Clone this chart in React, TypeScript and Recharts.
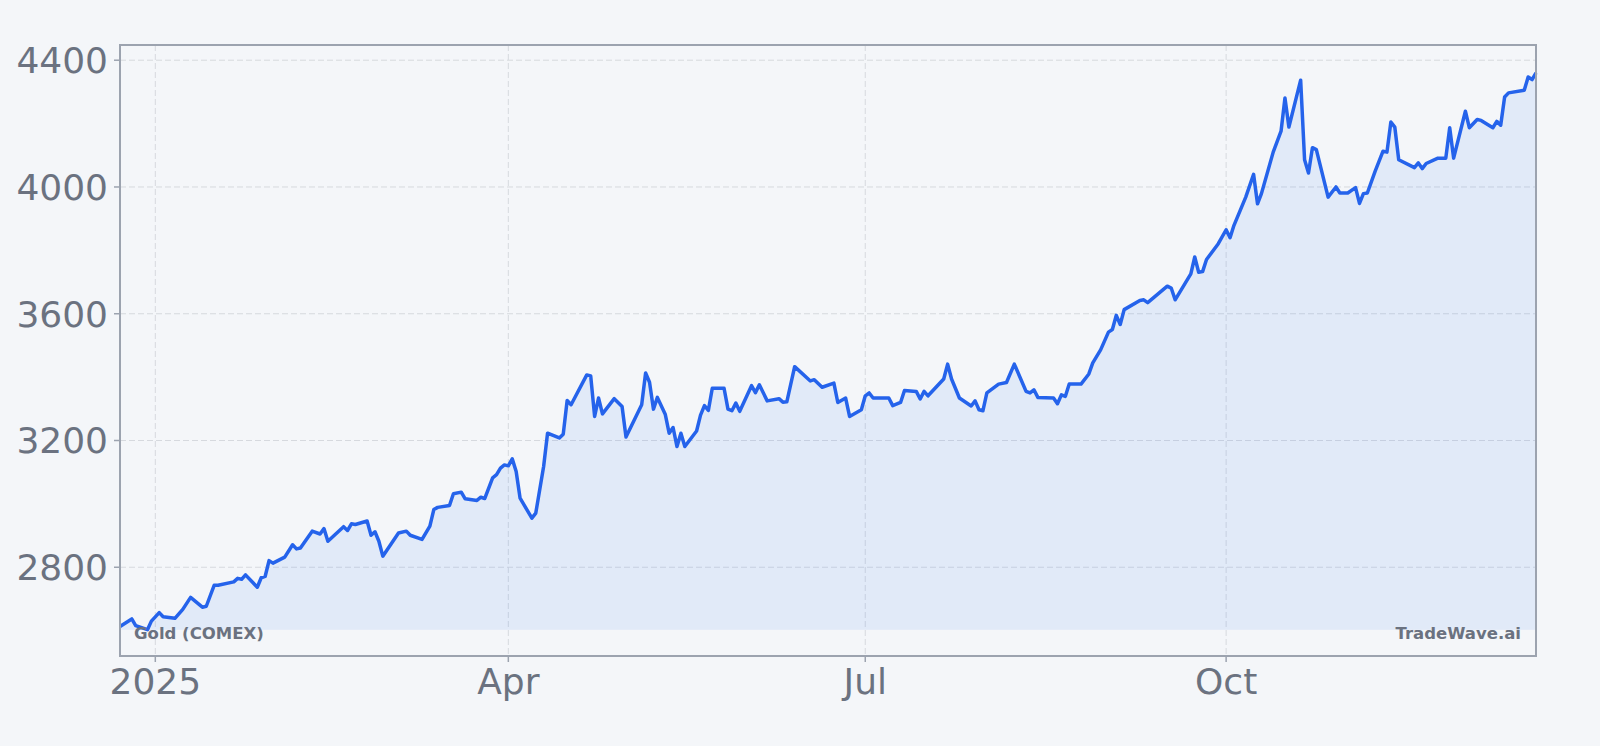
import React from 'react';
import { ComposedChart, Area, XAxis, YAxis, CartesianGrid } from 'recharts';

const dates = [
  '2024-12-23','2024-12-26','2024-12-27','2024-12-30','2024-12-31',
  '2025-01-02','2025-01-03','2025-01-06','2025-01-07','2025-01-08','2025-01-10','2025-01-13','2025-01-14','2025-01-16','2025-01-17',
  '2025-01-21','2025-01-22','2025-01-23','2025-01-24','2025-01-27','2025-01-28','2025-01-29','2025-01-30','2025-01-31',
  '2025-02-03','2025-02-05','2025-02-06','2025-02-07','2025-02-10','2025-02-12','2025-02-13','2025-02-14','2025-02-18','2025-02-19',
  '2025-02-20','2025-02-21','2025-02-24','2025-02-25','2025-02-26','2025-02-27','2025-02-28',
  '2025-03-04','2025-03-06','2025-03-07','2025-03-10','2025-03-12','2025-03-13','2025-03-14','2025-03-17','2025-03-18','2025-03-20',
  '2025-03-21','2025-03-24','2025-03-25','2025-03-26','2025-03-28','2025-03-29','2025-03-30','2025-03-31',
  '2025-04-01','2025-04-02','2025-04-03','2025-04-04','2025-04-07','2025-04-08','2025-04-10','2025-04-11','2025-04-14','2025-04-15',
  '2025-04-16','2025-04-17','2025-04-21','2025-04-22','2025-04-23','2025-04-24','2025-04-25','2025-04-28','2025-04-30',
  '2025-05-01','2025-05-05','2025-05-06','2025-05-07','2025-05-08','2025-05-09','2025-05-11','2025-05-12','2025-05-13','2025-05-14',
  '2025-05-15','2025-05-16','2025-05-19','2025-05-20','2025-05-21','2025-05-22','2025-05-23','2025-05-26','2025-05-27','2025-05-28',
  '2025-05-29','2025-05-30',
  '2025-06-02','2025-06-03','2025-06-04','2025-06-06','2025-06-09','2025-06-10','2025-06-11','2025-06-13','2025-06-17','2025-06-18',
  '2025-06-20','2025-06-23','2025-06-24','2025-06-26','2025-06-27','2025-06-30',
  '2025-07-01','2025-07-02','2025-07-03','2025-07-07','2025-07-08','2025-07-10','2025-07-11','2025-07-14','2025-07-15','2025-07-16',
  '2025-07-17','2025-07-21','2025-07-22','2025-07-23','2025-07-25','2025-07-28','2025-07-29','2025-07-30','2025-07-31',
  '2025-08-01','2025-08-04','2025-08-06','2025-08-08','2025-08-11','2025-08-12','2025-08-13','2025-08-14','2025-08-18','2025-08-19',
  '2025-08-20','2025-08-21','2025-08-22','2025-08-25','2025-08-27','2025-08-28','2025-08-30',
  '2025-09-01','2025-09-02','2025-09-03','2025-09-04','2025-09-05','2025-09-09','2025-09-10','2025-09-11','2025-09-16','2025-09-17',
  '2025-09-18','2025-09-22','2025-09-23','2025-09-24','2025-09-25','2025-09-26','2025-09-29',
  '2025-10-01','2025-10-02','2025-10-03','2025-10-06','2025-10-08','2025-10-09','2025-10-10','2025-10-13','2025-10-15','2025-10-16',
  '2025-10-17','2025-10-20','2025-10-21','2025-10-22','2025-10-23','2025-10-24','2025-10-27','2025-10-29','2025-10-30',
  '2025-11-01','2025-11-03','2025-11-04','2025-11-05','2025-11-06','2025-11-08','2025-11-10','2025-11-11','2025-11-12','2025-11-13',
  '2025-11-14','2025-11-18','2025-11-19','2025-11-20','2025-11-21','2025-11-24','2025-11-26','2025-11-27','2025-11-28',
  '2025-12-01','2025-12-02','2025-12-04','2025-12-05','2025-12-08','2025-12-09','2025-12-10','2025-12-11','2025-12-12','2025-12-16',
  '2025-12-17','2025-12-18','2025-12-19',
];

const prices = [
  2613, 2637, 2616, 2603, 2630,
  2657, 2644, 2639, 2653, 2667, 2705, 2674, 2677, 2743, 2743,
  2754, 2765, 2762, 2776, 2737, 2767, 2771, 2821, 2813,
  2832, 2871, 2858, 2861, 2914, 2905, 2922, 2882, 2928, 2916,
  2937, 2935, 2946, 2901, 2912, 2882, 2835,
  2908, 2914, 2901, 2888, 2930, 2982, 2989, 2995, 3032, 3037,
  3016, 3011, 3021, 3017, 3082, 3092, 3113, 3123,
  3120, 3142, 3102, 3018, 2955, 2971, 3118, 3223, 3208, 3220,
  3326, 3313, 3407, 3404, 3276, 3334, 3284, 3332, 3307,
  3211, 3313, 3413, 3384, 3299, 3336, 3283, 3223, 3241, 3181,
  3223, 3181, 3230, 3280, 3310, 3295, 3365, 3365, 3299, 3294,
  3318, 3292,
  3373, 3351, 3376, 3325, 3332, 3321, 3322, 3433, 3388, 3392,
  3368, 3381, 3320, 3334, 3276, 3297,
  3341, 3350, 3334, 3334, 3310, 3320, 3358, 3355, 3331, 3355,
  3341, 3394, 3441, 3394, 3334, 3309, 3325, 3297, 3294,
  3350, 3378, 3383, 3441, 3355, 3350, 3360, 3336, 3334, 3316,
  3344, 3339, 3378, 3378, 3410, 3445, 3486,
  3542, 3550, 3595, 3566, 3613, 3642, 3644, 3635, 3687, 3681,
  3644, 3726, 3779, 3731, 3733, 3771, 3821,
  3865, 3840, 3879, 3968, 4040, 3947, 3979, 4110, 4176, 4281,
  4189, 4337, 4086, 4044, 4124, 4118, 3968, 4000, 3981,
  3981, 3998, 3948, 3979, 3981, 4050, 4113, 4110, 4205, 4189,
  4086, 4061, 4076, 4058, 4074, 4091, 4091, 4187, 4091,
  4239, 4187, 4213, 4210, 4187, 4207, 4195, 4284, 4297, 4305,
  4347, 4339, 4360,
];

const tickDates = ['2025-01-01', '2025-04-01', '2025-07-01', '2025-10-01'];
const tickLabels = ['2025', 'Apr', 'Jul', 'Oct'];
const yTicks = [2800, 3200, 3600, 4000, 4400];
const yDomain = [2520, 4448];

const seriesName = 'Gold (COMEX)';
const brand = 'TradeWave.ai';

const ORIGIN = Date.UTC(2025, 0, 1);
function dayNum(s: string): number {
  const [y, m, d] = s.split('-').map(Number);
  return (Date.UTC(y, m - 1, d) - ORIGIN) / 86400000;
}

const data = dates.map((d, i) => ({ t: dayNum(d), v: prices[i] }));
const xTicks = tickDates.map(dayNum);
const labelFor = (t: number) => {
  const i = xTicks.indexOf(t);
  return i >= 0 ? tickLabels[i] : '';
};
const minPrice = Math.min(...prices);

const FONT = '"DejaVu Sans", sans-serif';
const BG = '#f4f6f9';
const TEXT = '#6b7280';
const FRAME = '#9ca3af';
const LINE = '#2563eb';
const FILL = '#3b82f6';

const W = 1600;
const H = 746;
const M = { top: 45, right: 64, bottom: 0, left: 0 };
const Y_AXIS_W = 120;
const X_AXIS_H = 90;

export default function App() {
  const plotLeft = M.left + Y_AXIS_W;
  const plotTop = M.top;
  const plotW = W - M.right - plotLeft;
  const plotH = H - M.bottom - X_AXIS_H - plotTop;
  return (
    <div style={{ position: 'absolute', left: 0, top: 0, width: W, height: H, background: BG, fontFamily: FONT }}>
      <ComposedChart width={W} height={H} data={data} margin={M}>
        <CartesianGrid stroke="#d6d9de" strokeDasharray="6 3" strokeWidth={1} />
        <XAxis
          dataKey="t"
          type="number"
          domain={['dataMin', 'dataMax']}
          ticks={xTicks}
          tickFormatter={labelFor}
          height={X_AXIS_H}
          axisLine={false}
          tickLine={{ stroke: FRAME, strokeWidth: 1.5 }}
          tickSize={6}
          tickMargin={6}
          tick={{ fill: TEXT, fontSize: 36, fontFamily: FONT }}
          interval={0}
        />
        <YAxis
          type="number"
          domain={yDomain}
          allowDataOverflow
          ticks={yTicks}
          width={Y_AXIS_W}
          axisLine={false}
          tickLine={{ stroke: FRAME, strokeWidth: 1.5 }}
          tickSize={6}
          tickMargin={6}
          tick={{ fill: TEXT, fontSize: 36, fontFamily: FONT }}
          interval={0}
        />
        <Area
          type="linear"
          dataKey="v"
          baseValue={minPrice}
          stroke={LINE}
          strokeWidth={3.5}
          strokeLinejoin="round"
          fill={FILL}
          fillOpacity={0.1}
          dot={false}
          activeDot={false}
          isAnimationActive={false}
        />
      </ComposedChart>
      <div
        style={{
          position: 'absolute',
          left: plotLeft - 1,
          top: plotTop - 1,
          width: plotW + 2,
          height: plotH + 2,
          boxSizing: 'border-box',
          border: `2px solid ${FRAME}`,
          pointerEvents: 'none',
        }}
      />
      <div style={{ position: 'absolute', left: 134, top: 623, fontSize: 16.5, fontWeight: 'bold', color: TEXT, fontFamily: FONT, lineHeight: '22px', whiteSpace: 'nowrap' }}>
        {seriesName}
      </div>
      <div style={{ position: 'absolute', right: W - 1521, top: 623, fontSize: 16.5, fontWeight: 'bold', color: TEXT, fontFamily: FONT, lineHeight: '22px', whiteSpace: 'nowrap', textAlign: 'right' }}>
        {brand}
      </div>
    </div>
  );
}
